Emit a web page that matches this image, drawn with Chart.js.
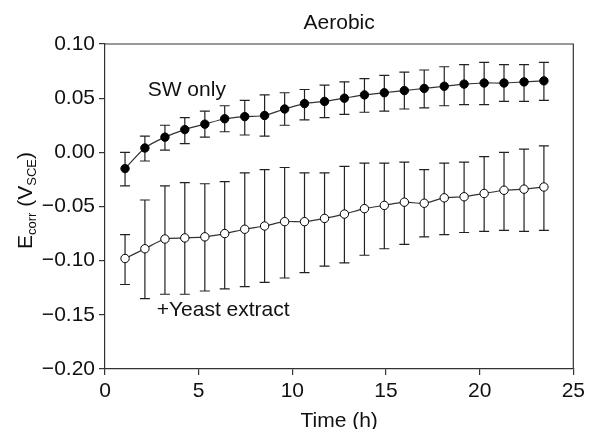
<!DOCTYPE html>
<html>
<head>
<meta charset="utf-8">
<script src="https://cdn.jsdelivr.net/npm/chart.js@4/dist/chart.umd.min.js"></script>
<style>
  body { margin: 0; background: #fff; }
</style>
</head>
<body>
<canvas id="ecorrChart" width="589" height="429"></canvas>
<script>
// time (h) of each reading
var times = [1.07, 2.13, 3.2, 4.26, 5.33, 6.39, 7.46, 8.52, 9.59, 10.65, 11.72,
             12.78, 13.85, 14.91, 15.98, 17.04, 18.11, 19.17, 20.24, 21.3, 22.37, 23.43];

// SW only
var swMean = [-0.015, 0.004, 0.014, 0.021, 0.026, 0.031, 0.033, 0.034, 0.040, 0.045, 0.047,
              0.050, 0.053, 0.055, 0.057, 0.059, 0.061, 0.063, 0.064, 0.064, 0.065, 0.066];
var swHigh = [0.000, 0.015, 0.025, 0.032, 0.038, 0.043, 0.048, 0.053, 0.055, 0.058, 0.062,
              0.065, 0.068, 0.071, 0.074, 0.076, 0.079, 0.081, 0.083, 0.081, 0.081, 0.083];
var swLow  = [-0.031, -0.008, 0.002, 0.008, 0.014, 0.019, 0.016, 0.015, 0.025, 0.030, 0.032,
              0.035, 0.037, 0.038, 0.040, 0.041, 0.043, 0.044, 0.044, 0.047, 0.047, 0.048];

// +Yeast extract
var yeMean = [-0.098, -0.089, -0.080, -0.079, -0.078, -0.075, -0.071, -0.068, -0.064, -0.064, -0.061,
              -0.057, -0.052, -0.049, -0.046, -0.047, -0.042, -0.041, -0.038, -0.035, -0.034, -0.032];
var yeHigh = [-0.076, -0.044, -0.031, -0.028, -0.029, -0.027, -0.019, -0.016, -0.014, -0.019, -0.019,
              -0.013, -0.010, -0.010, -0.009, -0.016, -0.010, -0.009, -0.004, 0.000, 0.003, 0.006];
var yeLow  = [-0.122, -0.135, -0.131, -0.131, -0.128, -0.126, -0.124, -0.120, -0.116, -0.111, -0.105,
              -0.102, -0.095, -0.089, -0.085, -0.078, -0.076, -0.074, -0.073, -0.072, -0.073, -0.072];

var FONT = '"Liberation Sans", Arial, Helvetica, sans-serif';
var SIZE = 21;
var INK = '#111';

function toPoints(ys) {
    return times.map(function(t, i) { return { x: t, y: ys[i] }; });
}

// vertical error bars with caps, drawn behind the lines and markers
var errorBars = {
    id: 'errorBars',
    beforeDatasetsDraw: function(chart) {
        var ctx = chart.ctx, x = chart.scales.x, y = chart.scales.y;
        ctx.save();
        ctx.strokeStyle = '#222';
        ctx.lineWidth = 1.2;
        [[swLow, swHigh], [yeLow, yeHigh]].forEach(function(pair) {
            times.forEach(function(t, i) {
                var px = x.getPixelForValue(t);
                var top = y.getPixelForValue(pair[1][i]);
                var bot = y.getPixelForValue(pair[0][i]);
                ctx.beginPath();
                ctx.moveTo(px, top); ctx.lineTo(px, bot);
                ctx.moveTo(px - 5, top); ctx.lineTo(px + 5, top);
                ctx.moveTo(px - 5, bot); ctx.lineTo(px + 5, bot);
                ctx.stroke();
            });
        });
        ctx.restore();
    }
};

// frame, title, series labels and axis titles
var decorations = {
    id: 'decorations',
    afterDraw: function(chart) {
        var ctx = chart.ctx, a = chart.chartArea, x = chart.scales.x, y = chart.scales.y;
        ctx.save();
        ctx.strokeStyle = '#333';
        ctx.lineWidth = 1.2;
        ctx.beginPath();
        ctx.moveTo(a.left, a.top); ctx.lineTo(a.right, a.top); ctx.lineTo(a.right, a.bottom);
        ctx.stroke();

        ctx.fillStyle = INK;
        ctx.font = SIZE + 'px ' + FONT;
        ctx.textAlign = 'center';
        ctx.textBaseline = 'middle';
        ctx.fillText('Aerobic', (a.left + a.right) / 2, a.top - 21);
        ctx.fillText('Time (h)', (a.left + a.right) / 2, x.bottom - 8);

        ctx.textBaseline = 'alphabetic';
        ctx.textAlign = 'left';
        ctx.fillText('SW only', x.getPixelForValue(2.28), y.getPixelForValue(0.052));
        ctx.fillText('+Yeast extract', x.getPixelForValue(2.76), y.getPixelForValue(-0.151));

        // y title with subscripts
        var parts = [['E', SIZE, 0], ['corr', 13, 4], [' (V', SIZE, 0], ['SCE', 13, 4], [')', SIZE, 0]];
        var total = 0;
        parts.forEach(function(p) { ctx.font = p[1] + 'px ' + FONT; total += ctx.measureText(p[0]).width; });
        ctx.translate(25, (a.top + a.bottom) / 2 - 6);
        ctx.rotate(-Math.PI / 2);
        var cx = -total / 2;
        parts.forEach(function(p) {
            ctx.font = p[1] + 'px ' + FONT;
            ctx.fillText(p[0], cx, 7 + p[2]);
            cx += ctx.measureText(p[0]).width;
        });
        ctx.restore();
    }
};

var ctx = document.getElementById('ecorrChart').getContext('2d');
var chart = new Chart(ctx, {
    type: 'line',
    data: {
        datasets: [{
            label: 'SW only',
            data: toPoints(swMean),
            borderColor: '#333',
            borderWidth: 1.2,
            tension: 0.25,
            pointRadius: 4.2,
            pointBackgroundColor: '#000',
            pointBorderColor: '#000',
            pointBorderWidth: 1,
            fill: false
        },
        {
            label: '+Yeast extract',
            data: toPoints(yeMean),
            borderColor: '#333',
            borderWidth: 1.2,
            tension: 0.25,
            pointRadius: 4.2,
            pointBackgroundColor: '#fff',
            pointBorderColor: '#000',
            pointBorderWidth: 1,
            fill: false
        }]
    },
    options: {
        responsive: false,
        animation: false,
        devicePixelRatio: 1,
        layout: { padding: { left: 0, right: 12, top: 44, bottom: 0 } },
        plugins: {
            legend: { display: false },
            tooltip: { enabled: false },
            title: { display: false }
        },
        scales: {
            x: {
                type: 'linear',
                min: 0,
                max: 25,
                afterFit: function(s) { s.height = 60; },
                border: { color: '#333', width: 1.2 },
                grid: { drawOnChartArea: false, tickLength: 6, color: '#333', lineWidth: 1.2 },
                ticks: {
                    stepSize: 5,
                    color: INK,
                    padding: 4,
                    maxRotation: 0,
                    font: { family: FONT, size: SIZE }
                }
            },
            y: {
                min: -0.2,
                max: 0.1,
                afterFit: function(s) { s.width = 105; },
                border: { color: '#333', width: 1.2 },
                grid: { drawOnChartArea: false, tickLength: 6, color: '#333', lineWidth: 1.2 },
                ticks: {
                    stepSize: 0.05,
                    color: INK,
                    padding: 4,
                    font: { family: FONT, size: SIZE },
                    callback: function(v) {
                        return (v < -1e-9 ? '\u2212' : '') + Math.abs(v).toFixed(2);
                    }
                }
            }
        }
    },
    plugins: [errorBars, decorations]
});
</script>
</body>
</html>
